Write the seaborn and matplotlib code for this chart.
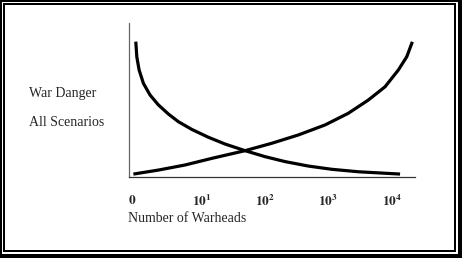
import matplotlib
matplotlib.use("Agg")
import matplotlib.pyplot as plt
from matplotlib.patches import Rectangle
import pandas as pd
import seaborn as sns

# ---- data (x = number of warheads, y = relative danger 0-100) ----
warheads_falling = [1.304, 1.352, 1.471, 1.720, 2.194, 2.968, 4.269, 6.143, 10.0,
                    18.29, 33.58, 69.5, 143.9, 297.8, 695, 1629, 4285, 19540]
danger_falling = [87.9, 78.1, 69.5, 60.8, 53.2, 46.8, 40.9, 35.9, 30.9,
                  25.8, 21.4, 17.1, 13.2, 10.0, 7.1, 5.0, 3.4, 1.9]
warheads_rising = [1.195, 2.968, 7.84, 20.7, 69.5, 183.6, 483, 1276, 2978,
                   6166, 11320, 18360, 24930, 30550]
danger_rising = [1.9, 4.5, 7.8, 12.1, 17.1, 21.9, 27.3, 33.8, 41.4,
                 50.0, 58.6, 69.5, 78.1, 87.8]
tick_values = [1, 10, 100, 1000, 10000]
tick_labels = [r"$\mathbf{0}$", r"$\mathbf{10^1}$", r"$\mathbf{10^2}$",
               r"$\mathbf{10^3}$", r"$\mathbf{10^4}$"]

df = pd.concat([
    pd.DataFrame({"warheads": warheads_falling, "danger": danger_falling, "series": "falling"}),
    pd.DataFrame({"warheads": warheads_rising, "danger": danger_rising, "series": "rising"}),
])

sns.set_style("white")
plt.rcParams["font.family"] = ["Liberation Serif", "DejaVu Serif"]
plt.rcParams["mathtext.fontset"] = "stix"

W, H = 462, 258
fig = plt.figure(figsize=(W / 100, H / 100), dpi=100)
fig.patch.set_facecolor("black")


def px_rect(x0, y0, x1, y1, color, z):
    r = Rectangle((x0 / W, 1 - y1 / H), (x1 - x0) / W, (y1 - y0) / H,
                  transform=fig.transFigure, facecolor=color, edgecolor="none", zorder=z)
    fig.add_artist(r)


px_rect(2, 2, 458, 254, "white", -10)
px_rect(3, 3, 456, 252, "black", -9)
px_rect(5, 5, 454, 250, "white", -8)

left, right, top, bottom = 128.5, 415.2, 23, 177
ax = fig.add_axes([left / W, 1 - bottom / H, (right - left) / W, (bottom - top) / H])
ax.set_facecolor("none")

sns.lineplot(data=df, x="warheads", y="danger", hue="series",
             palette=["black", "black"], linewidth=2.3, legend=False, ax=ax)
for ln in ax.lines:
    ln.set_solid_joinstyle("round")
    ln.set_solid_capstyle("butt")

ax.set_xscale("log")
ax.set_xlim(1, 10 ** 4.53)
ax.set_ylim(0, 100)
ax.set_xticks(tick_values)
ax.set_xticklabels(tick_labels, fontsize=9.5)
ax.minorticks_off()
for t in ax.get_xticklabels():
    t.set_horizontalalignment("left")
ax.tick_params(axis="x", length=0, pad=12.5)
ax.set_yticks([])
ax.set_xlabel("")
ax.set_ylabel("")
for s in ["top", "right"]:
    ax.spines[s].set_visible(False)
ax.spines["left"].set_color("#666666")
ax.spines["bottom"].set_color("#333333")
ax.spines["left"].set_linewidth(0.9)
ax.spines["bottom"].set_linewidth(0.9)

fig.text(29 / W, 1 - 97.5 / H, "War Danger", fontsize=10, ha="left", va="baseline")
fig.text(29 / W, 1 - 125.7 / H, "All Scenarios", fontsize=10, ha="left", va="baseline")
fig.text(128 / W, 1 - 221.7 / H, "Number of Warheads", fontsize=10, ha="left", va="baseline")

fig.savefig("out.png", dpi=100, facecolor=fig.get_facecolor())
